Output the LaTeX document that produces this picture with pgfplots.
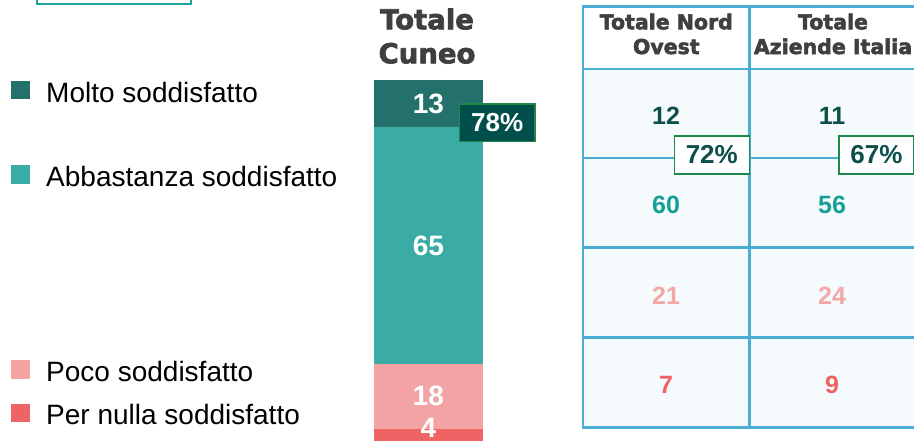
\documentclass[border=0pt]{standalone}
\usepackage{fontspec}
\setmainfont{Liberation Sans}
\newfontfamily\blackfont[BoldFeatures={FakeBold=2.5}]{DejaVu Sans}
\usepackage{pgfplots}
\pgfplotsset{compat=1.18}
\definecolor{molto}{HTML}{24706A}
\definecolor{abba}{HTML}{3BACA5}
\definecolor{poco}{HTML}{F3A3A3}
\definecolor{nulla}{HTML}{EE6464}
\definecolor{boxfill}{HTML}{004F4A}
\definecolor{boxline}{HTML}{1E8A4A}
\definecolor{tline}{HTML}{4AADD4}
\definecolor{tfill}{HTML}{F5FAFC}
\definecolor{head}{HTML}{3F3F3F}
\definecolor{dteal}{HTML}{0D4F4B}
\definecolor{mteal}{HTML}{14A096}
\definecolor{rpoco}{HTML}{F4A6A6}
\definecolor{rnulla}{HTML}{EE6262}
\definecolor{frame}{HTML}{1FA3A0}
\begin{document}
\begin{tikzpicture}[x=1pt,y=1pt]
\useasboundingbox (0pt,0pt) rectangle (914pt,440pt);
\clip (0pt,0pt) rectangle (914pt,440pt);
% ---------- background / layout axis in pixel units ----------
\begin{axis}[at={(0pt,0pt)}, anchor=south west, scale only axis, width=914pt, height=440pt,
  xmin=0, xmax=914, ymin=0, ymax=440, y dir=reverse, axis lines=none, clip=false]
  % frame top-left
  \draw[frame, line width=2pt] (37,-20) rectangle (191,3.5);
  % legend
  \fill[molto] (10.7,81) rectangle (30,99.3);
  \fill[abba]  (10.7,165) rectangle (30,184);
  \fill[poco]  (10.7,360) rectangle (30,379);
  \fill[nulla] (10.7,404) rectangle (30,422);
  \node[anchor=base west, font=\fontsize{28}{32}\selectfont, text=black] at (42.7,102.5) {Molto soddisfatto};
  \node[anchor=base west, font=\fontsize{28}{32}\selectfont, text=black] at (42.7,186) {Abbastanza soddisfatto};
  \node[anchor=base west, font=\fontsize{28}{32}\selectfont, text=black] at (42.7,381.5) {Poco soddisfatto};
  \node[anchor=base west, font=\fontsize{28}{32}\selectfont, text=black] at (42.7,424) {Per nulla soddisfatto};
  % title Cuneo
  \node[anchor=base, font=\blackfont\bfseries\fontsize{27.5}{34}\selectfont, text=head] at (427,29.3) {Totale};
  \node[anchor=base, font=\blackfont\bfseries\fontsize{27.5}{34}\selectfont, text=head] at (427,63.3) {Cuneo};
  % table
  \fill[white] (583,6.7) rectangle (930,69);
  \fill[tfill] (583,69) rectangle (930,427.3);
  \draw[tline, line width=2.5pt] (581.8,6.7) -- (930,6.7);
  \draw[tline, line width=2.5pt] (581.8,69) -- (930,69);
  \draw[tline, line width=2.5pt] (581.8,158) -- (930,158);
  \draw[tline, line width=2.5pt] (581.8,247.7) -- (930,247.7);
  \draw[tline, line width=2.5pt] (581.8,337.3) -- (930,337.3);
  \draw[tline, line width=2.5pt] (581.8,427.3) -- (930,427.3);
  \draw[tline, line width=2.5pt] (583,6.7) -- (583,427.3);
  \draw[tline, line width=2.5pt] (749.3,6.7) -- (749.3,427.3);
  \draw[tline, line width=2.5pt] (917,6.7) -- (917,427.3);
  \node[anchor=base, font=\blackfont\bfseries\fontsize{20.5}{25}\selectfont, text=head] at (666.3,29.3) {Totale Nord};
  \node[anchor=base, font=\blackfont\bfseries\fontsize{20.5}{25}\selectfont, text=head] at (666.3,54) {Ovest};
  \node[anchor=base, font=\blackfont\bfseries\fontsize{20.5}{25}\selectfont, text=head] at (833,29.3) {Totale};
  \node[anchor=base, font=\blackfont\bfseries\fontsize{20.5}{25}\selectfont, text=head] at (833,54) {Aziende Italia};
  % boxes
  \node[draw=boxline, fill=white, line width=1.5pt, minimum width=75pt, minimum height=38pt, inner sep=0pt,
    text=dteal, font=\bfseries\fontsize{26}{28}\selectfont] at (711.8,155) {72\%};
  \node[draw=boxline, fill=white, line width=1.5pt, minimum width=75pt, minimum height=38pt, inner sep=0pt,
    text=dteal, font=\bfseries\fontsize{26}{28}\selectfont] at (876.5,155) {67\%};
  % table values
  \addplot[draw=none, mark=none, nodes near coords, point meta=explicit symbolic,
    nodes near coords style={anchor=base, text=dteal, font=\bfseries\fontsize{25}{27}\selectfont}]
    coordinates {(666,124) [12] (832,124) [11]};
  \addplot[draw=none, mark=none, nodes near coords, point meta=explicit symbolic,
    nodes near coords style={anchor=base, text=mteal, font=\bfseries\fontsize{25}{27}\selectfont}]
    coordinates {(666,213) [60] (832,213) [56]};
  \addplot[draw=none, mark=none, nodes near coords, point meta=explicit symbolic,
    nodes near coords style={anchor=base, text=rpoco, font=\bfseries\fontsize{25}{27}\selectfont}]
    coordinates {(666,304) [21] (832,304) [24]};
  \addplot[draw=none, mark=none, nodes near coords, point meta=explicit symbolic,
    nodes near coords style={anchor=base, text=rnulla, font=\bfseries\fontsize{25}{27}\selectfont}]
    coordinates {(666,393) [7] (832,393) [9]};
\end{axis}
% ---------- stacked bar: Totale Cuneo ----------
\begin{axis}[at={(374pt,-3.5pt)}, anchor=south west, scale only axis, width=109pt, height=363.5pt,
  xmin=-0.5, xmax=0.5, ymin=0, ymax=100, ybar stacked, bar width=109pt, axis lines=none, clip=false]
  \addplot[fill=nulla, draw=none] coordinates {(0,4)};
  \addplot[fill=poco, draw=none] coordinates {(0,18)};
  \addplot[fill=abba, draw=none] coordinates {(0,65)};
  \addplot[fill=molto, draw=none] coordinates {(0,13)};
\end{axis}
% ---------- bar labels ----------
\begin{axis}[at={(374pt,-3.5pt)}, anchor=south west, scale only axis, width=109pt, height=363.5pt,
  xmin=-0.5, xmax=0.5, ymin=0, ymax=100, axis lines=none, clip=false]
  \addplot[draw=none, mark=none, nodes near coords, point meta=explicit symbolic,
    nodes near coords style={anchor=center, inner sep=0pt, text=white, font=\bfseries\fontsize{28}{30}\selectfont}]
    coordinates {(0,4.3) [4] (0,13) [18] (0,54.5) [65] (0,93.5) [13]};
\end{axis}
\node[draw=boxline, fill=boxfill, line width=1.5pt, minimum width=75.7pt, minimum height=37.7pt, inner sep=0pt,
  text=white, font=\bfseries\fontsize{26}{28}\selectfont] at (497.2pt,317.1pt) {78\%};
\end{tikzpicture}
\end{document}
